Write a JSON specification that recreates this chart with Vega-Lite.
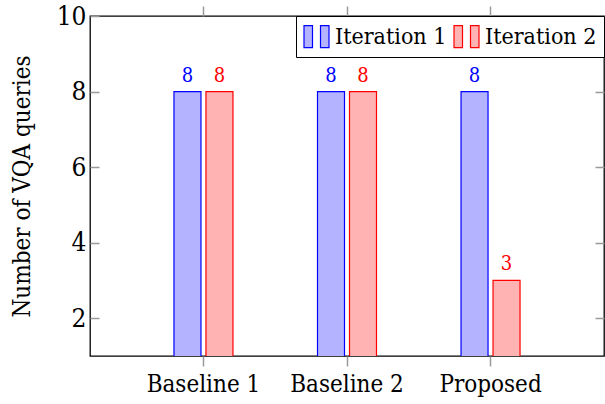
{
  "$schema": "https://vega.github.io/schema/vega-lite/v6.json",
  "autosize": {"type": "none"},
  "padding": {"left": 90, "top": 16, "right": 1, "bottom": 48},
  "width": 514,
  "height": 340,
  "background": "white",
  "config": {
    "font": "DejaVu Serif Condensed, DejaVu Serif",
    "view": {"stroke": "black", "strokeWidth": 1.3},
    "axis": {
      "labelFont": "DejaVu Serif Condensed, DejaVu Serif",
      "titleFont": "DejaVu Serif Condensed, DejaVu Serif",
      "labelFontSize": 24,
      "titleFontSize": 24,
      "labelColor": "black",
      "titleColor": "black",
      "titleFontWeight": "normal",
      "domain": false,
      "grid": false,
      "tickColor": "#9a9a9a",
      "tickWidth": 1.5
    },
    "legend": {
      "labelFont": "DejaVu Serif Condensed, DejaVu Serif",
      "labelFontSize": 23,
      "labelColor": "black"
    }
  },
  "data": {
    "values": [
      {"method": "Baseline 1", "series": "Iteration 1", "queries": 8},
      {"method": "Baseline 1", "series": "Iteration 2", "queries": 8},
      {"method": "Baseline 2", "series": "Iteration 1", "queries": 8},
      {"method": "Baseline 2", "series": "Iteration 2", "queries": 8},
      {"method": "Proposed", "series": "Iteration 1", "queries": 8},
      {"method": "Proposed", "series": "Iteration 2", "queries": 3}
    ]
  },
  "layer": [
    {
      "mark": {"type": "bar", "strokeWidth": 1.2, "clip": true},
      "encoding": {
        "x": {
          "field": "method",
          "type": "nominal",
          "sort": null,
          "scale": {"paddingInner": 0.589, "paddingOuter": 0.585},
          "axis": {
            "orient": "bottom",
            "title": null,
            "labelAngle": 0,
            "tickSize": 10,
            "labelPadding": 6
          }
        },
        "xOffset": {
          "field": "series",
          "type": "nominal",
          "scale": {"paddingInner": 0.156, "paddingOuter": 0}
        },
        "y": {
          "field": "queries",
          "type": "quantitative",
          "scale": {"domain": [1, 10], "nice": false, "zero": false},
          "axis": {
            "orient": "left",
            "title": "Number of VQA queries",
            "values": [2, 4, 6, 8, 10],
            "tickSize": -9,
            "labelFontSize": 26,
            "labelPadding": 13,
            "titlePadding": 22
          }
        },
        "fill": {
          "field": "series",
          "type": "nominal",
          "scale": {"domain": ["Iteration 1", "Iteration 2"], "range": ["#b3b3ff", "#ffb3b3"]},
          "legend": {
            "title": null,
            "orient": "top-right",
            "offset": 0,
            "direction": "horizontal",
            "columns": 2,
            "strokeColor": "black",
            "fillColor": "white",
            "padding": 7,
            "columnPadding": 4,
            "labelOffset": 5,
            "symbolSize": 625,
            "symbolStrokeWidth": 1.2,
            "symbolType": "M-1,-0.88H-0.32V0.88H-1Z M0.32,-0.88H1V0.88H0.32Z"
          }
        },
        "stroke": {
          "field": "series",
          "type": "nominal",
          "scale": {"domain": ["Iteration 1", "Iteration 2"], "range": ["#0000ff", "#ff0000"]},
          "legend": {
            "title": null,
            "orient": "top-right",
            "offset": 0,
            "direction": "horizontal",
            "columns": 2,
            "strokeColor": "black",
            "fillColor": "white",
            "padding": 7,
            "columnPadding": 4,
            "labelOffset": 5,
            "symbolSize": 625,
            "symbolStrokeWidth": 1.2,
            "symbolType": "M-1,-0.88H-0.32V0.88H-1Z M0.32,-0.88H1V0.88H0.32Z"
          }
        }
      }
    },
    {
      "mark": {"type": "text", "baseline": "alphabetic", "dy": -10, "fontSize": 20, "font": "DejaVu Serif Condensed, DejaVu Serif"},
      "encoding": {
        "x": {
          "field": "method",
          "type": "nominal",
          "sort": null,
          "axis": {"orient": "top", "title": null, "labels": false, "tickSize": 10}
        },
        "xOffset": {"field": "series", "type": "nominal"},
        "y": {
          "field": "queries",
          "type": "quantitative",
          "axis": {
            "orient": "right",
            "title": null,
            "labels": false,
            "values": [2, 4, 6, 8, 10],
            "tickSize": -9
          }
        },
        "text": {"field": "queries", "type": "quantitative"},
        "fill": {
          "condition": {"test": "datum.series === 'Iteration 1'", "value": "#0000ff"},
          "value": "#ff0000"
        }
      }
    }
  ],
  "resolve": {"axis": {"x": "independent", "y": "independent"}}
}
